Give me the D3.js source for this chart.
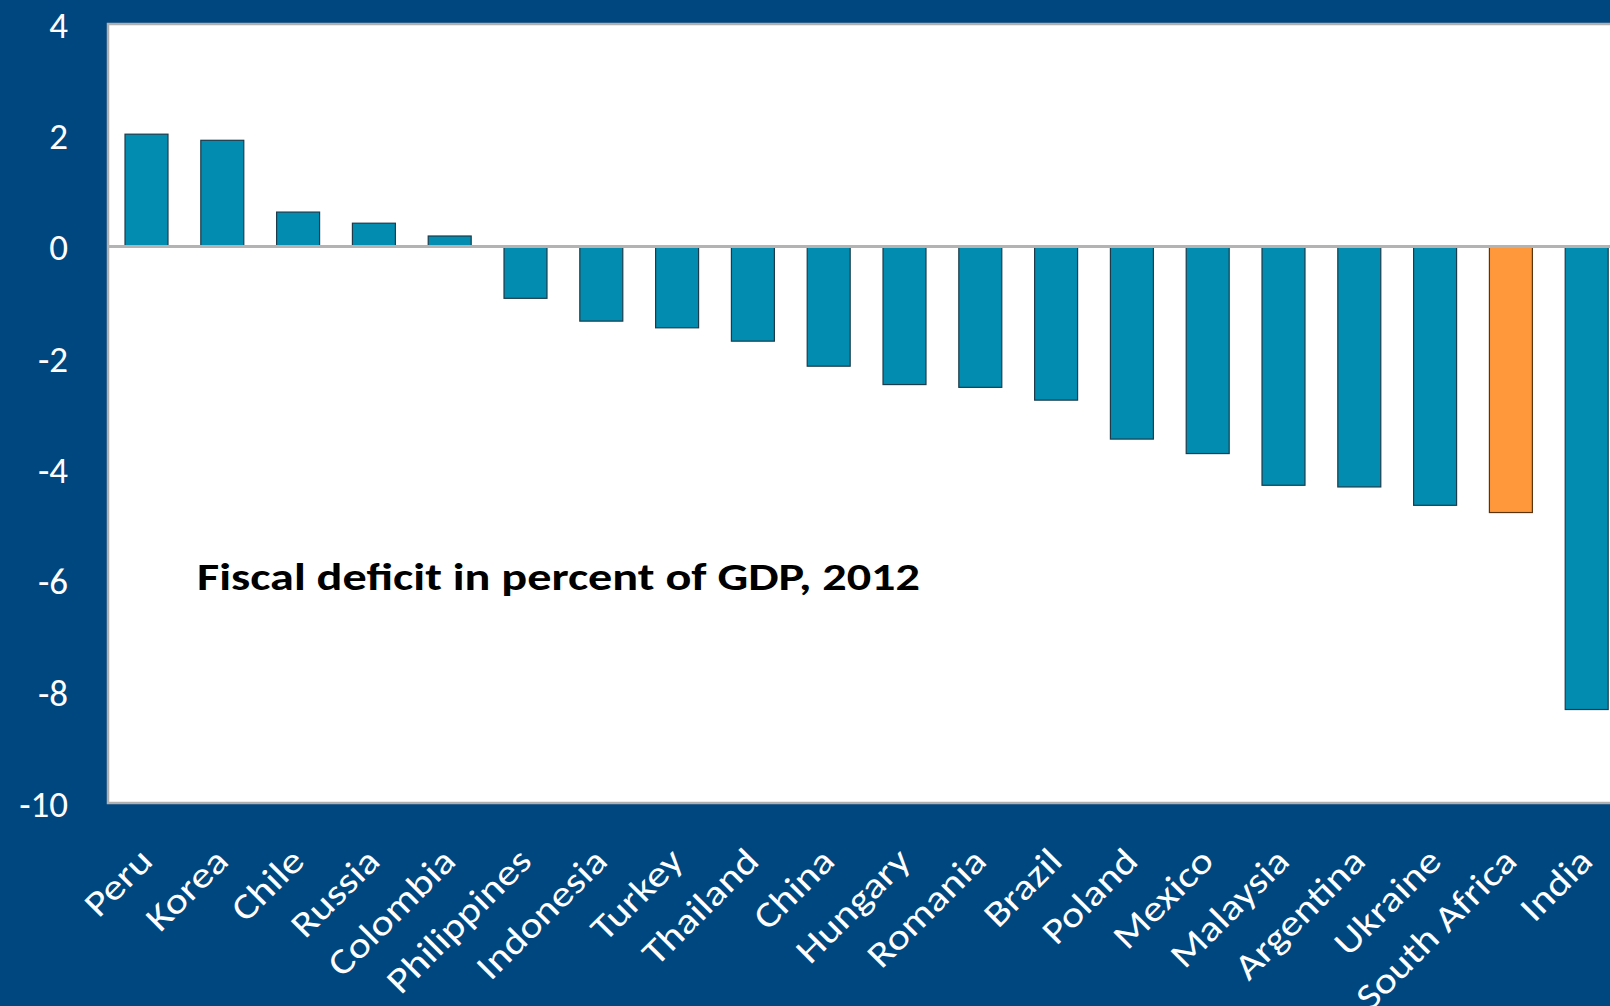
<!DOCTYPE html>
<html>
<head>
<meta charset="utf-8">
<script src="https://cdn.jsdelivr.net/npm/d3@7"></script>
<style>
  body { margin: 0; background: #00477f; overflow: hidden; }
  svg text { font-family: Carlito, Calibri, Lato, sans-serif; }
</style>
</head>
<body>
<script>
// data
const countries = ['Peru', 'Korea', 'Chile', 'Russia', 'Colombia', 'Philippines', 'Indonesia',
  'Turkey', 'Thailand', 'China', 'Hungary', 'Romania', 'Brazil', 'Poland', 'Mexico',
  'Malaysia', 'Argentina', 'Ukraine', 'South Africa', 'India'];
const deficit = [2.02, 1.91, 0.62, 0.42, 0.19, -0.93, -1.34, -1.46, -1.70, -2.15, -2.48, -2.53,
  -2.76, -3.46, -3.72, -4.29, -4.32, -4.65, -4.78, -8.32];
const yTicks = [4, 2, 0, -2, -4, -6, -8, -10];
const highlight = 'South Africa';
const title = 'Fiscal deficit in percent of GDP, 2012';

const w = 1610;
const h = 1006;
const plotLeft = 108, plotTop = 24, plotBottom = 803;

const svg = d3.select('body')
              .append('svg')
              .attr('width', w)
              .attr('height', h);

svg.append('rect')
   .attr('width', w)
   .attr('height', h)
   .attr('fill', '#00477f');

const xScale = d3.scaleBand()
                 .domain(countries)
                 .range([plotLeft + 0.6, plotLeft + 0.6 + 1516])
                 .paddingInner(0.433)
                 .paddingOuter(0.2165);

const yScale = d3.scaleLinear()
                 .domain([-10, 4])
                 .range([plotBottom, plotTop]);

// plot area with grey edge
svg.append('rect')
   .attr('x', plotLeft)
   .attr('y', plotTop)
   .attr('width', w - plotLeft + 20)
   .attr('height', plotBottom - plotTop)
   .attr('fill', '#ffffff')
   .attr('stroke', '#b0b0b0')
   .attr('stroke-width', 2.5);

const rows = countries.map((c, i) => ({ name: c, value: deficit[i] }));

svg.selectAll('rect.bar')
   .data(rows)
   .enter()
   .append('rect')
   .attr('class', 'bar')
   .attr('x', d => xScale(d.name))
   .attr('width', xScale.bandwidth())
   .attr('y', d => yScale(Math.max(0, d.value)))
   .attr('height', d => Math.abs(yScale(d.value) - yScale(0)))
   .attr('fill', d => d.name === highlight ? '#ff973b' : '#018cb0')
   .attr('stroke', d => d.name === highlight ? '#5a3410' : '#1d3b4a')
   .attr('stroke-width', 1.2);

// zero line
svg.append('line')
   .attr('x1', plotLeft)
   .attr('x2', w)
   .attr('y1', yScale(0))
   .attr('y2', yScale(0))
   .attr('stroke', '#b3b3b3')
   .attr('stroke-width', 3);

const yAxis = d3.axisLeft(yScale)
                .tickValues(yTicks)
                .tickFormat(d => String(d))
                .tickSize(0)
                .tickPadding(0);

svg.append('g')
   .attr('transform', 'translate(' + (plotLeft - 40) + ',0)')
   .call(yAxis)
   .call(g => g.select('.domain').remove())
   .selectAll('text')
   .attr('fill', '#ffffff')
   .attr('font-size', 37)
   .attr('dy', '0.36em')
   .style('font-family', 'Carlito, Calibri, Lato, sans-serif');

const xAxis = d3.axisBottom(xScale).tickSize(0);

svg.append('g')
   .attr('transform', 'translate(0,' + plotBottom + ')')
   .call(xAxis)
   .call(g => g.select('.domain').remove())
   .selectAll('text')
   .attr('fill', '#ffffff')
   .attr('font-size', 36)
   .attr('y', 0)
   .attr('dy', 0)
   .attr('text-anchor', 'end')
   .attr('transform', 'translate(8,60) rotate(-45) scale(1.18,1)')
   .style('font-family', 'Carlito, Calibri, Lato, sans-serif');

svg.append('text')
   .attr('x', 197)
   .attr('y', 590)
   .attr('font-size', 38)
   .attr('font-weight', 'bold')
   .attr('fill', '#000000')
   .attr('textLength', 723)
   .attr('lengthAdjust', 'spacingAndGlyphs')
   .text(title);
</script>
</body>
</html>
